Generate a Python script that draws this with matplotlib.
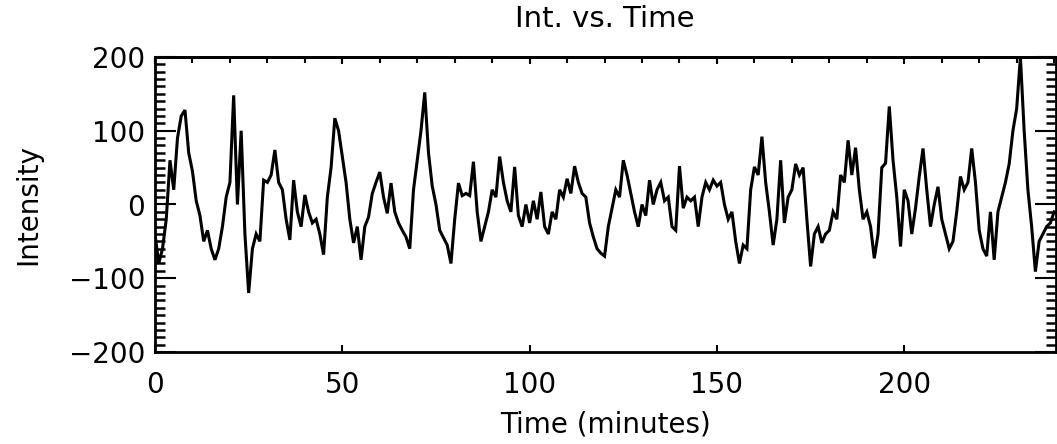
import matplotlib
matplotlib.use("Agg")
import matplotlib.pyplot as plt
from matplotlib.ticker import MultipleLocator, FixedLocator

# Time in minutes (one sample per minute) and intensity values
time_min = list(range(0, 241))
intensity = [
    -40, -80, -60, -20, 60, 20, 90, 120, 128, 70,      # 0-9
    45, 5, -15, -50, -35, -60, -75, -60, -30, 10,      # 10-19
    30, 148, 0, 100, -40, -120, -60, -40, -50, 33,     # 20-29
    30, 40, 74, 30, 20, -20, -48, 33, -10, -30,        # 30-39
    13, -10, -25, -20, -40, -68, 10, 50, 117, 100,     # 40-49
    65, 30, -20, -52, -30, -75, -30, -17, 15, 30,      # 50-59
    44, 10, -12, 29, -10, -25, -35, -44, -60, 20,      # 60-69
    60, 100, 152, 70, 25, 0, -35, -45, -55, -80,       # 70-79
    -20, 29, 12, 15, 12, 58, -10, -50, -30, -10,       # 80-89
    20, 10, 65, 30, 5, -10, 51, -15, -30, 0,           # 90-99
    -25, 5, -20, 17, -30, -40, -10, -20, 20, 10,       # 100-109
    35, 15, 52, 30, 15, 10, -25, -44, -60, -66,        # 110-119
    -70, -30, -5, 20, 10, 60, 40, 15, -10, -30,        # 120-129
    0, -15, 33, 0, 20, 30, 5, 10, -30, -35,            # 130-139
    52, -5, 10, 5, 10, -30, 10, 30, 20, 33,            # 140-149
    25, 30, 0, -20, -10, -50, -80, -55, -60, 20,       # 150-159
    51, 40, 92, 30, -10, -55, -20, 60, -25, 10,        # 160-169
    20, 55, 40, 50, -20, -84, -40, -30, -52, -40,      # 170-179
    -35, -10, -20, 40, 30, 87, 40, 77, 20, -20,        # 180-189
    -10, -30, -73, -40, 50, 56, 133, 60, 10, -57,      # 190-199
    20, 5, -40, -5, 38, 76, 20, -30, 0, 24,            # 200-209
    -20, -40, -60, -50, -10, 38, 20, 30, 76, 30,       # 210-219
    -35, -60, -70, -10, -75, -10, 10, 30, 55, 100,     # 220-229
    130, 200, 100, 20, -30, -91, -50, -40, -30, -25,   # 230-239
    -10,                                               # 240
]

x_major = [0, 50, 100, 150, 200]
y_major = [-200, -100, 0, 100, 200]
y_labels = ["\u2212200", "\u2212100", "0", "100", "200"]

W, H = 1057, 444
fig = plt.figure(figsize=(W / 100, H / 100), dpi=100)
ax = fig.add_axes([155 / W, 1 - 352 / H, (1056 - 155) / W, (352 - 57) / H])

ax.plot(time_min, intensity, color="black", linewidth=2.2, solid_joinstyle="miter")

ax.set_xlim(0, 240.5)
ax.set_ylim(-200, 200)

ax.xaxis.set_major_locator(FixedLocator(x_major))
ax.yaxis.set_major_locator(FixedLocator(y_major))
ax.yaxis.set_minor_locator(MultipleLocator(10))
ax.set_yticklabels(y_labels)

fs = 20
ax.tick_params(axis="x", which="major", direction="in", length=5, width=1.5,
               top=True, bottom=True, labelsize=fs, pad=14)
ax.tick_params(axis="y", which="major", direction="in", length=15, width=1.5,
               left=True, right=True, labelsize=fs, pad=7)
ax.tick_params(axis="y", which="minor", direction="in", length=7.5, width=1.8,
               left=True, right=True)

# top axis minor ticks every 10 minutes (bottom axis carries majors only)
top = ax.secondary_xaxis("top")
top.xaxis.set_major_locator(MultipleLocator(10))
top.tick_params(axis="x", which="major", direction="in", length=4, width=1.5,
                labeltop=False)
top.spines["top"].set_linewidth(2.0)

for s in ax.spines.values():
    s.set_linewidth(2.0)

fig.text(605 / W, 1 - 19 / H, "Int. vs. Time", ha="center", va="center", fontsize=21)
fig.text(605 / W, 1 - 424 / H, "Time (minutes)", ha="center", va="center", fontsize=fs)
fig.text(28 / W, 1 - 205 / H, "Intensity", ha="center", va="center", fontsize=fs, rotation=90)

fig.savefig("out.png", dpi=100)
